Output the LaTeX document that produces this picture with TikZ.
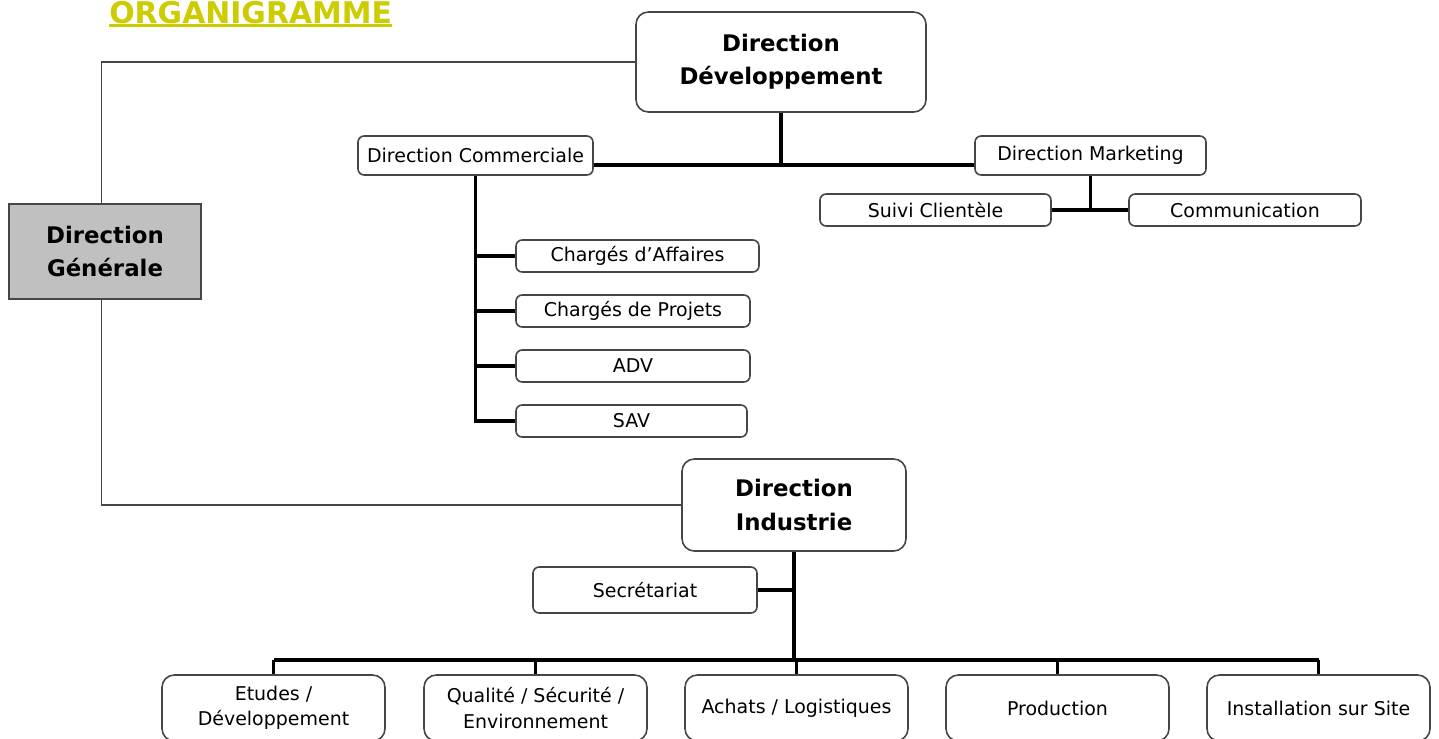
\documentclass[tikz,border=0pt]{standalone}
\usepackage{fontspec}
\setmainfont{DejaVu Sans}
\usetikzlibrary{positioning}
\definecolor{jaune}{RGB}{204,204,0}
\definecolor{bord}{RGB}{70,70,70}
\definecolor{gris}{RGB}{192,192,192}
\newlength\px
\setlength\px{0.02cm}
\begin{document}
\begin{tikzpicture}[x=0.02cm,y=-0.02cm,
    petit/.style={draw=bord,line width=0.9pt,rounded corners=3.5pt,fill=white,
        inner sep=0pt,align=center,font=\fontsize{10.8}{14.5}\selectfont},
    grand/.style={draw=bord,line width=0.9pt,rounded corners=7pt,fill=white,
        inner sep=0pt,align=center,font=\fontsize{13}{19}\selectfont\bfseries},
    bas/.style={petit,rounded corners=7pt,minimum width=223\px,minimum height=66\px},
    epais/.style={line width=2.1pt},
    fin/.style={draw=bord,line width=0.6pt}]
\useasboundingbox (0,0) rectangle (1439,738);
% titre
\node[anchor=base west,inner sep=0pt,text=jaune,font=\fontsize{17}{20}\selectfont\bfseries] (titre) at (109,23.5) {ORGANIGRAMME};
\draw[jaune,line width=1.6pt] ([yshift=-1.3pt]titre.base west) -- ([yshift=-1.3pt]titre.base east);
% directions
\node[grand,fill=gris,rounded corners=0pt,minimum width=192\px,minimum height=95\px] (dg) at (105,251.5) {Direction\\Générale};
\node[grand,minimum width=290\px,minimum height=100\px] (dd) at (781,62) {Direction\\Développement};
\node[grand,minimum width=224\px,minimum height=92\px] (di) at (794,505) {Direction\\Industrie};
\draw[fin] ([xshift=-2pt]dg.north) |- (dd.west);
\draw[fin] ([xshift=-2pt]dg.south) |- (di.west);
% developpement
\node[petit,minimum width=235\px,minimum height=39\px] (dc) at (475.5,155.5) {Direction Commerciale};
\node[petit,minimum width=231\px,minimum height=39\px] (dm) at (1090.5,155.5) {Direction Marketing};
\coordinate (bus1) at (781,165);
\draw[epais] (dd.south) -- (bus1);
\draw[epais] (dc.east |- bus1) -- (dm.west |- bus1);
\node[petit,minimum width=243\px,minimum height=32\px] (ca) at (637.5,256) {Chargés d’Affaires};
\node[petit,minimum width=234\px,minimum height=32\px] (cp) at (633,311) {Chargés de Projets};
\node[petit,minimum width=234\px,minimum height=32\px] (adv) at (633,366) {ADV};
\node[petit,minimum width=231\px,minimum height=32\px] (sav) at (631.5,421) {SAV};
\draw[epais] (dc.south) |- (sav.west);
\foreach \n in {ca,cp,adv}
    \draw[epais] (dc.south |- \n.west) -- (\n.west);
\node[petit,minimum width=231\px,minimum height=32\px] (sc) at (935.5,210) {Suivi Clientèle};
\node[petit,minimum width=232\px,minimum height=32\px] (com) at (1245,210) {Communication};
\draw[epais] (dm.south) -- (dm.south |- sc.east);
\draw[epais] (sc.east) -- (com.west);
% industrie
\node[petit,minimum width=224\px,minimum height=46\px] (sec) at (645,590) {Secrétariat};
\coordinate (bus2) at (794,660);
\draw[epais] (di.south) -- (bus2);
\draw[epais] (sec.east) -- (sec.east -| di.south);
\node[bas] (etu) at (273.5,708) {Etudes /\\Développement};
\node[bas] (qse) at (535.5,708) {Qualité / Sécurité /\\Environnement};
\node[bas] (ach) at (796.5,708) {Achats / Logistiques};
\node[bas] (prod) at (1057.5,708) {Production};
\node[bas] (inst) at (1318.5,708) {Installation sur Site};
\draw[epais] (etu.north |- bus2) -- (inst.north |- bus2);
\foreach \n in {etu,qse,ach,prod,inst}
    \draw[epais] (\n.north |- bus2) -- (\n.north);
\end{tikzpicture}
\end{document}
